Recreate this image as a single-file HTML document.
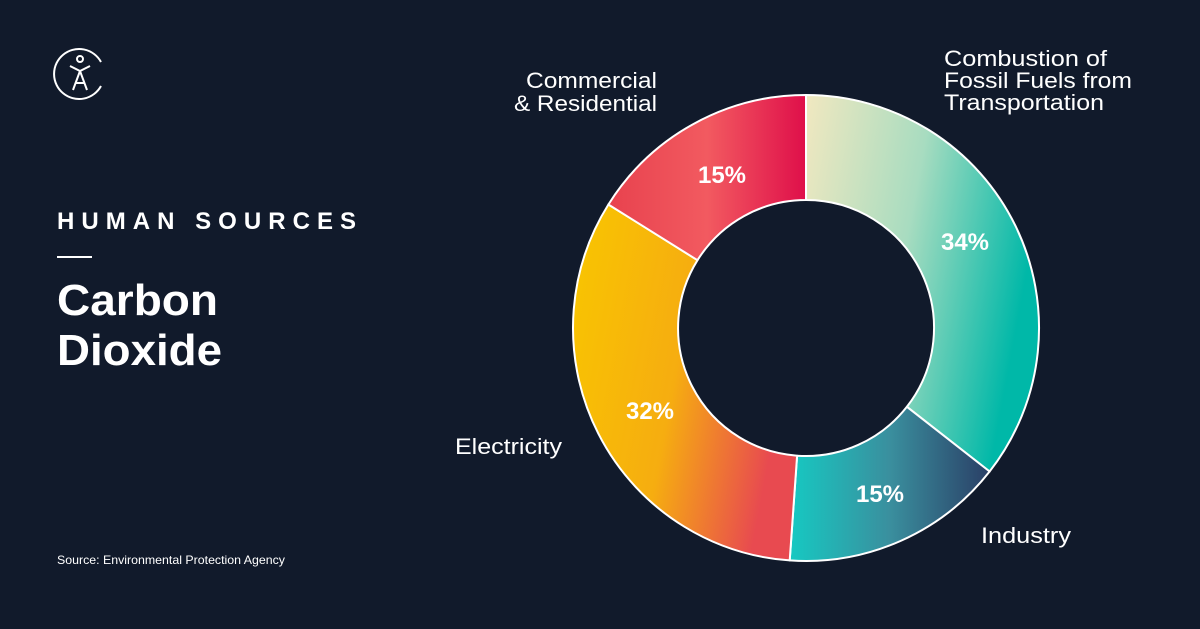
<!DOCTYPE html>
<html><head><meta charset="utf-8"><style>
body{margin:0;background:#111a2b;}
svg{display:block}
text{font-family:"Liberation Sans",Arial,sans-serif;fill:#fff}
</style></head><body>
<svg width="1200" height="629" viewBox="0 0 1200 629" xmlns="http://www.w3.org/2000/svg">
<defs>
<linearGradient id="gT" x1="0" y1="0" x2="1" y2="0.3"><stop offset="0" stop-color="#f1e8c0"/><stop offset="0.5" stop-color="#a8dcc0"/><stop offset="1" stop-color="#00b8a8"/></linearGradient>
<linearGradient id="gI" x1="0" y1="0" x2="1" y2="0"><stop offset="0" stop-color="#16c9c2"/><stop offset="0.5" stop-color="#3a8f9e"/><stop offset="1" stop-color="#2a3f66"/></linearGradient>
<linearGradient id="gE" x1="0" y1="0" x2="1" y2="0.3"><stop offset="0" stop-color="#f9c600"/><stop offset="0.55" stop-color="#f6ad10"/><stop offset="1" stop-color="#e84a50"/></linearGradient>
<linearGradient id="gC" x1="0" y1="0" x2="1" y2="0"><stop offset="0" stop-color="#e8424e"/><stop offset="0.5" stop-color="#f25a60"/><stop offset="1" stop-color="#df0f4a"/></linearGradient>
</defs>
<rect width="1200" height="629" fill="#111a2b"/>
<g stroke="#fff" stroke-width="2" fill="none">
<path d="M101 62 A25 25 0 1 0 101 86"/>
<circle cx="80" cy="59" r="3"/>
<path d="M70 66 L80 71 L90 66 M80 71 L73 90 M80 71 L87 90 M75 83 L85 83"/>
</g>
<text x="57" y="229" font-size="24" font-weight="bold" letter-spacing="4" textLength="303">HUMAN SOURCES</text>
<rect x="57" y="256" width="35" height="2" fill="#fff"/>
<text x="57" y="315" font-size="44" font-weight="bold" textLength="161" lengthAdjust="spacingAndGlyphs">Carbon</text>
<text x="57" y="365" font-size="44" font-weight="bold" textLength="165" lengthAdjust="spacingAndGlyphs">Dioxide</text>
<text x="57" y="564" font-size="12" textLength="228" lengthAdjust="spacingAndGlyphs">Source:  Environmental Protection Agency</text>
<g stroke="#fff" stroke-width="2" stroke-linejoin="round">
<path d="M806 95 A233 233 0 0 1 989.6 471.5 L906.9 406.8 A128 128 0 0 0 806 200 Z" fill="url(#gT)"/>
<path d="M989.6 471.5 A233 233 0 0 1 789.7 560.4 L797.1 455.7 A128 128 0 0 0 906.9 406.8 Z" fill="url(#gI)"/>
<path d="M789.7 560.4 A233 233 0 0 1 608.4 204.5 L697.5 260.2 A128 128 0 0 0 797.1 455.7 Z" fill="url(#gE)"/>
<path d="M608.4 204.5 A233 233 0 0 1 806 95 L806 200 A128 128 0 0 0 697.5 260.2 Z" fill="url(#gC)"/>
</g>
<g font-size="24" font-weight="bold" text-anchor="middle">
<text x="722" y="183">15%</text>
<text x="965" y="250">34%</text>
<text x="650" y="419">32%</text>
<text x="880" y="502">15%</text>
</g>
<g font-size="22">
<text x="526" y="88" textLength="131" lengthAdjust="spacingAndGlyphs">Commercial</text>
<text x="514" y="111" textLength="143" lengthAdjust="spacingAndGlyphs">&amp; Residential</text>
<text x="944" y="66" textLength="163" lengthAdjust="spacingAndGlyphs">Combustion of</text>
<text x="944" y="88" textLength="188" lengthAdjust="spacingAndGlyphs">Fossil Fuels from</text>
<text x="944" y="110" textLength="160" lengthAdjust="spacingAndGlyphs">Transportation</text>
<text x="455" y="454" textLength="107" lengthAdjust="spacingAndGlyphs">Electricity</text>
<text x="981" y="543" textLength="90" lengthAdjust="spacingAndGlyphs">Industry</text>
</g>
</svg>
</body></html>
